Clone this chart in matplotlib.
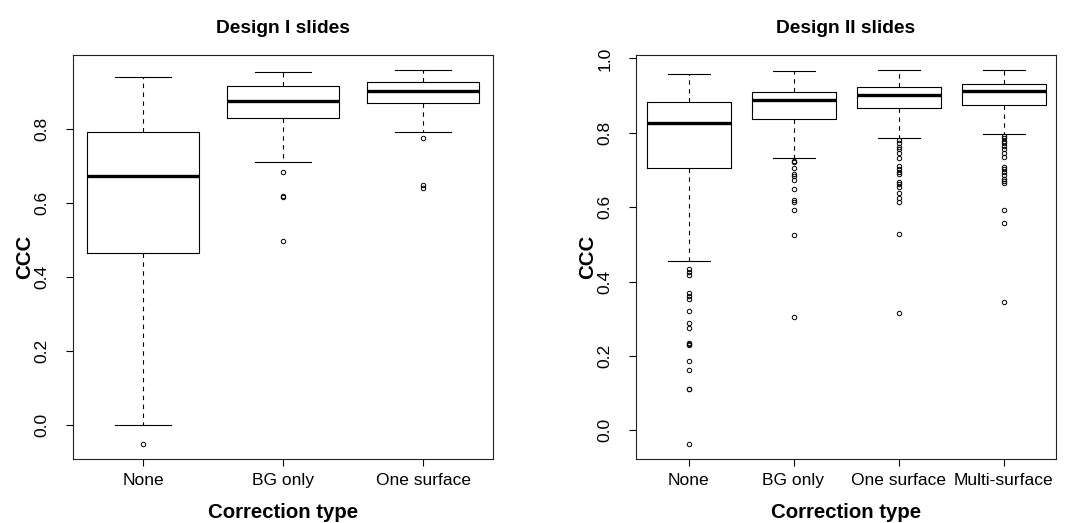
import numpy as np
import matplotlib
matplotlib.use("Agg")
import matplotlib.pyplot as plt

plt.rcParams['font.family'] = ['Liberation Sans', 'DejaVu Sans']

# Design I slides
d1_labels = ["None", "BG only", "One surface"]
d1_whislo = [0.0, 0.711, 0.793]
d1_q1 = [0.466, 0.831, 0.871]
d1_med = [0.675, 0.876, 0.903]
d1_q3 = [0.792, 0.917, 0.928]
d1_whishi = [0.941, 0.956, 0.961]
d1_fliers = [[-0.052],
             [0.684, 0.621, 0.618, 0.497],
             [0.778, 0.649, 0.640]]

# Design II slides
d2_labels = ["None", "BG only", "One surface", "Multi-surface"]
d2_whislo = [0.455, 0.731, 0.785, 0.796]
d2_q1 = [0.706, 0.837, 0.866, 0.876]
d2_med = [0.827, 0.888, 0.902, 0.913]
d2_q3 = [0.884, 0.910, 0.922, 0.931]
d2_whishi = [0.958, 0.967, 0.969, 0.969]
d2_fliers = [[0.435, 0.427, 0.418, 0.370, 0.361, 0.352, 0.321, 0.288, 0.276,
              0.234, 0.232, 0.230, 0.186, 0.161, 0.111, 0.110, -0.037],
             [0.723, 0.721, 0.705, 0.689, 0.683, 0.673, 0.648, 0.619, 0.613,
              0.593, 0.525, 0.305],
             [0.781, 0.772, 0.763, 0.756, 0.747, 0.731, 0.711, 0.704, 0.695,
              0.689, 0.668, 0.662, 0.653, 0.639, 0.626, 0.613, 0.529, 0.315],
             [0.792, 0.786, 0.779, 0.772, 0.765, 0.756, 0.747, 0.734, 0.709,
              0.702, 0.695, 0.686, 0.677, 0.670, 0.666, 0.593, 0.557, 0.345]]


def r_boxplot(ax, labels, whislo, q1, med, q3, whishi, fliers, title, yticks):
    stats = []
    for i in range(len(labels)):
        stats.append(dict(label=labels[i], whislo=whislo[i], q1=q1[i], med=med[i],
                          q3=q3[i], whishi=whishi[i], fliers=fliers[i]))
    ax.bxp(stats, widths=0.8, showfliers=True,
           boxprops=dict(color='black', linewidth=0.8),
           medianprops=dict(color='black', linewidth=2.4, solid_capstyle='butt'),
           whiskerprops=dict(color='black', linewidth=0.8, linestyle=(0, (4, 4))),
           capprops=dict(color='black', linewidth=0.8),
           capwidths=0.4,
           flierprops=dict(marker='o', markersize=3.2, markerfacecolor='none',
                           markeredgecolor='black', markeredgewidth=0.7))
    # R style limits: 4% extension of the data range
    allv = whislo + whishi + [v for f in fliers for v in f]
    lo, hi = min(allv), max(allv)
    r = hi - lo
    ax.set_ylim(lo - 0.04 * r, hi + 0.04 * r)
    ax.set_xlim(0.5, len(labels) + 0.5)
    ax.set_yticks(yticks)
    ax.set_yticklabels([f"{t:.1f}" for t in yticks])
    ax.tick_params(axis='both', direction='out', length=5, width=0.8,
                   labelsize=12.5, pad=5)
    ax.tick_params(axis='y', labelrotation=90, pad=12)
    for lbl in ax.get_yticklabels():
        lbl.set_va('center')
    for s in ax.spines.values():
        s.set_linewidth(0.8)
        s.set_color('#222222')
    ax.set_title(title, fontsize=13.8, fontweight='bold', pad=15.5)
    ax.set_xlabel("Correction type", fontsize=14.7, fontweight='bold', labelpad=11)
    ax.set_ylabel("CCC", fontsize=14.7, fontweight='bold')
    ax.yaxis.set_label_coords(-0.093, 0.5)


fig = plt.figure(figsize=(10.76, 5.23), dpi=100)
ax1 = fig.add_axes([73 / 1076, 64 / 523, 420 / 1076, 404 / 523])
ax2 = fig.add_axes([636 / 1076, 64 / 523, 420 / 1076, 404 / 523])

r_boxplot(ax1, d1_labels, d1_whislo, d1_q1, d1_med, d1_q3, d1_whishi, d1_fliers,
          "Design I slides", [0.0, 0.2, 0.4, 0.6, 0.8])
r_boxplot(ax2, d2_labels, d2_whislo, d2_q1, d2_med, d2_q3, d2_whishi, d2_fliers,
          "Design II slides", [0.0, 0.2, 0.4, 0.6, 0.8, 1.0])

fig.savefig("out.png", dpi=100)
